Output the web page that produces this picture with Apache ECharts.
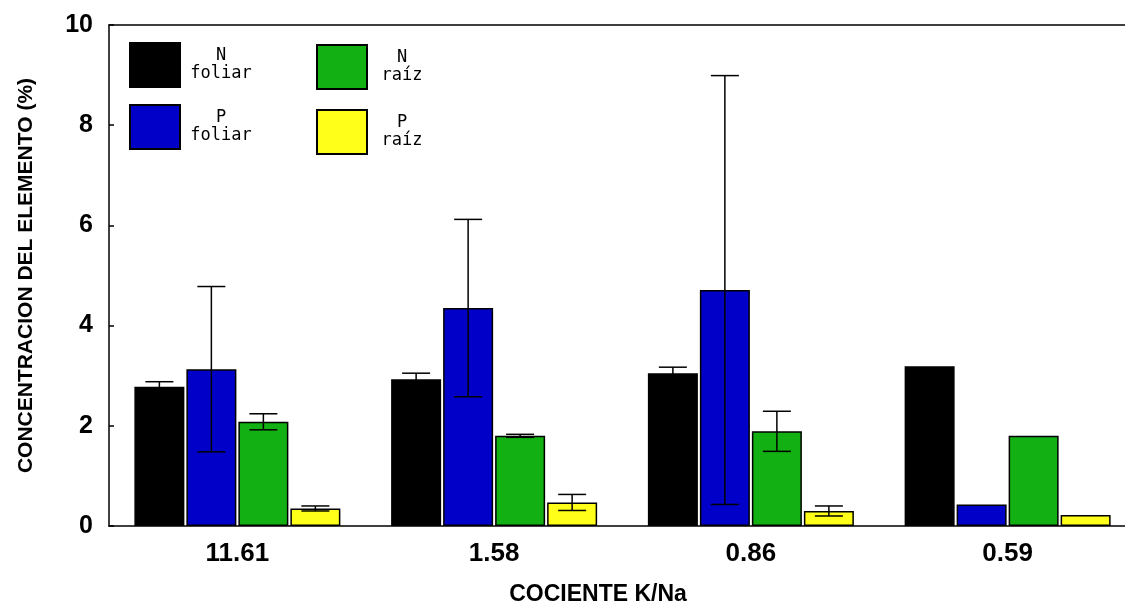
<!DOCTYPE html>
<html>
<head>
<meta charset="utf-8">
<script src="https://cdn.jsdelivr.net/npm/echarts@6/dist/echarts.min.js"></script>
<style>
  html, body { margin: 0; padding: 0; background: #fff; }
  #main { width: 1125px; height: 604px; }
</style>
</head>
<body>
<div id="main"></div>
<script>
// K/Na groups
const categories = ['11.61', '1.58', '0.86', '0.59'];
const yTicks = [0, 2, 4, 6, 8, 10];

// element concentration (%)
const nFoliar = [2.78, 2.93, 3.05, 3.19];
const pFoliar = [3.13, 4.35, 4.71, 0.43];
const nRaiz = [2.08, 1.80, 1.89, 1.80];
const pRaiz = [0.35, 0.47, 0.30, 0.22];

// error (+/-), null = no bar
const nFoliarErr = [0.10, 0.12, 0.12, null];
const pFoliarErr = [1.65, 1.77, 4.28, null];
const nRaizErr = [0.16, 0.03, 0.40, null];
const pRaizErr = [0.05, 0.16, 0.10, null];

const seriesNames = ['N foliar', 'P foliar', 'N raíz', 'P raíz'];
const colors = ['#000000', '#0000c8', '#12b012', '#ffff1a'];

const BAR_W = 50;
const BAR_GAP = 2;

var chartDom = document.getElementById('main');
var myChart = echarts.init(chartDom);

function errData(vals, errs) {
    var out = [];
    for (var i = 0; i < vals.length; i++) {
        if (errs[i] != null) out.push([i, vals[i], errs[i]]);
    }
    return out;
}

function errorRender(idx) {
    var offset = (idx - 1.5) * (BAR_W + BAR_GAP);
    return function (params, api) {
        var cat = api.value(0);
        var mid = api.value(1);
        var err = api.value(2);
        var hi = api.coord([cat, mid + err]);
        var lo = api.coord([cat, mid - err]);
        var x = hi[0] + offset;
        var half = 14;
        var st = { stroke: '#000', lineWidth: 1.5 };
        return {
            type: 'group',
            children: [
                { type: 'line', shape: { x1: x, y1: hi[1], x2: x, y2: lo[1] }, style: st },
                { type: 'line', shape: { x1: x - half, y1: hi[1], x2: x + half, y2: hi[1] }, style: st },
                { type: 'line', shape: { x1: x - half, y1: lo[1], x2: x + half, y2: lo[1] }, style: st }
            ]
        };
    };
}

function legendFmt(name) {
    var parts = name.split(' ');
    return '{t|' + parts[0] + '}\n{t|' + parts[1] + '}';
}

var legendText = function (w) {
    return {
        color: '#000',
        rich: {
            t: {
                width: w,
                align: 'center',
                fontFamily: 'DejaVu Sans Mono',
                fontSize: 17,
                lineHeight: 18,
                color: '#000'
            }
        }
    };
};

var vals = [nFoliar, pFoliar, nRaiz, pRaiz];
var errs = [nFoliarErr, pFoliarErr, nRaizErr, pRaizErr];

var series = [];
vals.forEach(function (v, i) {
    series.push({
        name: seriesNames[i],
        type: 'bar',
        data: v,
        barWidth: BAR_W,
        barGap: (BAR_GAP / BAR_W * 100) + '%',
        itemStyle: { color: colors[i], borderColor: '#000', borderWidth: 1.5 },
        emphasis: { disabled: true }
    });
});
errs.forEach(function (e, i) {
    series.push({
        type: 'custom',
        renderItem: errorRender(i),
        data: errData(vals[i], e),
        encode: { x: 0, y: 1 },
        z: 10,
        silent: true
    });
});

var option = {
    animation: false,
    backgroundColor: '#fff',
    // plot area runs a little past the right edge, as in the original
    grid: { left: 109, top: 25, width: 1027, height: 501, containLabel: false, outerBoundsMode: 'none' },
    legend: [
        {
            data: [seriesNames[0], seriesNames[1]],
            orient: 'vertical',
            icon: 'rect',
            left: 124,
            top: 37,
            itemWidth: 50,
            itemHeight: 44,
            itemGap: 16,
            formatter: legendFmt,
            textStyle: legendText(72),
            selectedMode: false
        },
        {
            data: [seriesNames[2], seriesNames[3]],
            orient: 'vertical',
            icon: 'rect',
            left: 311,
            top: 39,
            itemWidth: 50,
            itemHeight: 44,
            itemGap: 19,
            formatter: legendFmt,
            textStyle: legendText(60),
            selectedMode: false
        }
    ],
    xAxis: [
        {
            type: 'category',
            data: categories,
            position: 'bottom',
            name: 'COCIENTE K/Na',
            nameLocation: 'middle',
            nameGap: 57,
            nameTextStyle: {
                fontFamily: 'Liberation Sans',
                fontWeight: 'bold',
                fontSize: 23,
                color: '#000',
                padding: [0, 49, 0, 0]
            },
            axisLine: { lineStyle: { color: '#000', width: 1.5 } },
            axisTick: { inside: true, length: 5, lineStyle: { color: '#000', width: 1.5 } },
            axisLabel: {
                margin: 15,
                fontFamily: 'Liberation Sans',
                fontWeight: 'bold',
                fontSize: 26,
                color: '#000'
            }
        },
        {
            type: 'category',
            data: categories,
            position: 'top',
            axisLine: { lineStyle: { color: '#000', width: 1.5 } },
            axisTick: { inside: true, length: 5, lineStyle: { color: '#000', width: 1.5 } },
            axisLabel: { show: false }
        }
    ],
    yAxis: {
        type: 'value',
        min: yTicks[0],
        max: yTicks[yTicks.length - 1],
        interval: 2,
        name: 'CONCENTRACION DEL ELEMENTO (%)',
        nameLocation: 'middle',
        nameGap: 72,
        nameTextStyle: {
            fontFamily: 'Liberation Sans',
            fontWeight: 'bold',
            fontSize: 21,
            color: '#000'
        },
        splitLine: { show: false },
        axisLine: { show: true, lineStyle: { color: '#000', width: 1.5 } },
        axisTick: { show: true, inside: true, length: 5, lineStyle: { color: '#000', width: 1.5 } },
        axisLabel: {
            margin: 16,
            fontFamily: 'Liberation Sans',
            fontWeight: 'bold',
            fontSize: 25,
            color: '#000'
        }
    },
    series: series
};

option && myChart.setOption(option);
</script>
</body>
</html>
